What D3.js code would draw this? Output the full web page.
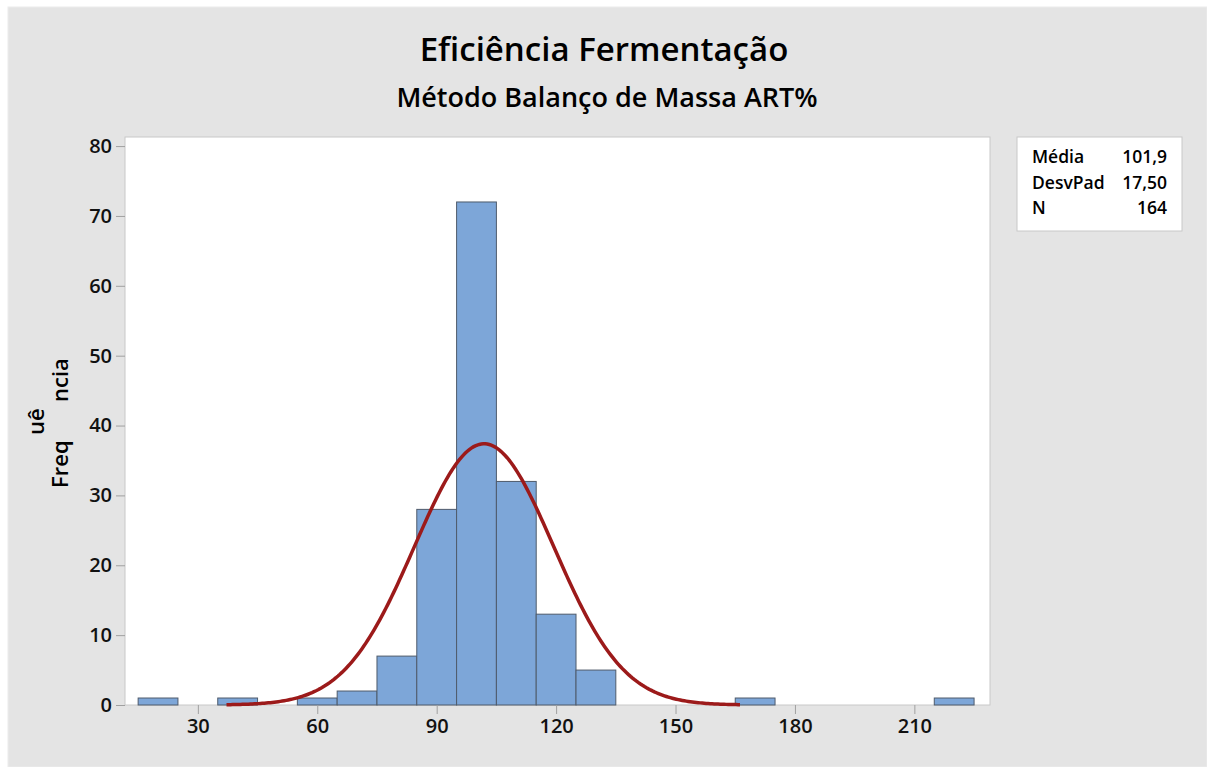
<!DOCTYPE html>
<html>
<head>
<meta charset="utf-8">
<script src="https://cdn.jsdelivr.net/npm/d3@7"></script>
<style>
  body { margin: 0; background: #fff; }
  svg { display: block; font-family: "Open Sans", "Noto Sans", sans-serif; }
</style>
</head>
<body>
<svg id="chart"></svg>
<script>
// histogram bins (lower edge) and counts
const binStarts = [15, 25, 35, 45, 55, 65, 75, 85, 95, 105, 115, 125, 135, 145, 155, 165, 175, 185, 195, 205, 215];
const binWidth = 10;
const counts = [1, 0, 1, 0, 1, 2, 7, 28, 72, 32, 13, 5, 0, 0, 0, 1, 0, 0, 0, 0, 1];
const xTicks = [30, 60, 90, 120, 150, 180, 210];
const yTicks = [0, 10, 20, 30, 40, 50, 60, 70, 80];
const statLabels = ['Média', 'DesvPad', 'N'];
const statValues = ['101,9', '17,50', '164'];
const mean = 101.9, sd = 17.5, n = 164;

const W = 1207, H = 767;
const plot = {left: 125, top: 137, right: 990, bottom: 705};

const svg = d3.select('#chart').attr('width', W).attr('height', H);

svg.append('rect')
  .attr('x', 8).attr('y', 7).attr('width', W - 8).attr('height', H - 7)
  .attr('fill', '#e4e4e4').attr('stroke', '#ececec');

const x = d3.scaleLinear().domain([11.7, 229]).range([plot.left, plot.right]);
const y = d3.scaleLinear().domain([0, 81.3]).range([plot.bottom, plot.top]);

svg.append('rect')
  .attr('x', plot.left).attr('y', plot.top)
  .attr('width', plot.right - plot.left).attr('height', plot.bottom - plot.top)
  .attr('fill', '#fff').attr('stroke', '#c8c8c8');

// bars
const bars = binStarts.map((s, i) => ({x0: s, x1: s + binWidth, c: counts[i]}));
svg.append('g').selectAll('rect')
  .data(bars.filter(d => d.c > 0))
  .join('rect')
  .attr('x', d => x(d.x0))
  .attr('y', d => y(d.c))
  .attr('width', d => x(d.x1) - x(d.x0))
  .attr('height', d => y(0) - y(d.c))
  .attr('fill', '#7da6d8')
  .attr('stroke', '#4f5b6b')
  .attr('stroke-width', 1);

// normal fit curve
const curveX = d3.range(37.2, 166.7, 0.5);
const pdf = v => n * binWidth / (sd * Math.sqrt(2 * Math.PI)) * Math.exp(-0.5 * ((v - mean) / sd) ** 2);
svg.append('path')
  .datum(curveX)
  .attr('d', d3.line().x(d => x(d)).y(d => y(pdf(d))))
  .attr('fill', 'none')
  .attr('stroke', '#9c1a1a')
  .attr('stroke-width', 3.5);

// axes
const xAxis = svg.append('g')
  .attr('transform', `translate(0,${plot.bottom})`)
  .call(d3.axisBottom(x).tickValues(xTicks).tickSize(9).tickPadding(5));
const yAxis = svg.append('g')
  .attr('transform', `translate(${plot.left},0)`)
  .call(d3.axisLeft(y).tickValues(yTicks).tickSize(9).tickPadding(4));
[xAxis, yAxis].forEach(a => {
  a.attr('font-family', null).attr('font-size', null);
  a.select('.domain').remove();
  a.selectAll('line').attr('stroke', '#a0a0a0');
  a.selectAll('text')
    .style('font-size', '20px')
    .style('font-weight', '600')
    .attr('fill', '#111');
});

// titles
svg.append('text')
  .attr('x', 604).attr('y', 61)
  .attr('text-anchor', 'middle')
  .style('font-size', '33px').style('font-weight', '600')
  .text('Eficiência Fermentação');
svg.append('text')
  .attr('x', 607).attr('y', 107)
  .attr('text-anchor', 'middle')
  .style('font-size', '27px').style('font-weight', '600')
  .text('Método Balanço de Massa ART%');

// y label (split as in the original)
const ylab = svg.append('g').style('font-size', '22px').style('font-weight', '600');
ylab.append('text')
  .attr('transform', 'translate(68,488) rotate(-90)')
  .text('Freq');
ylab.append('text')
  .attr('transform', 'translate(44,435) rotate(-90)')
  .text('uê');
ylab.append('text')
  .attr('transform', 'translate(68,402) rotate(-90)')
  .text('ncia');

// stats box
const box = svg.append('g');
box.append('rect')
  .attr('x', 1017).attr('y', 137).attr('width', 165).attr('height', 94)
  .attr('fill', '#fff').attr('stroke', '#c8c8c8');
statLabels.forEach((l, i) => {
  box.append('text')
    .attr('x', 1032).attr('y', 163 + i * 25.5)
    .style('font-size', '17.5px').style('font-weight', '600')
    .text(l);
  box.append('text')
    .attr('x', 1167).attr('y', 163 + i * 25.5)
    .attr('text-anchor', 'end')
    .style('font-size', '17.5px').style('font-weight', '600')
    .text(statValues[i]);
});
</script>
</body>
</html>
